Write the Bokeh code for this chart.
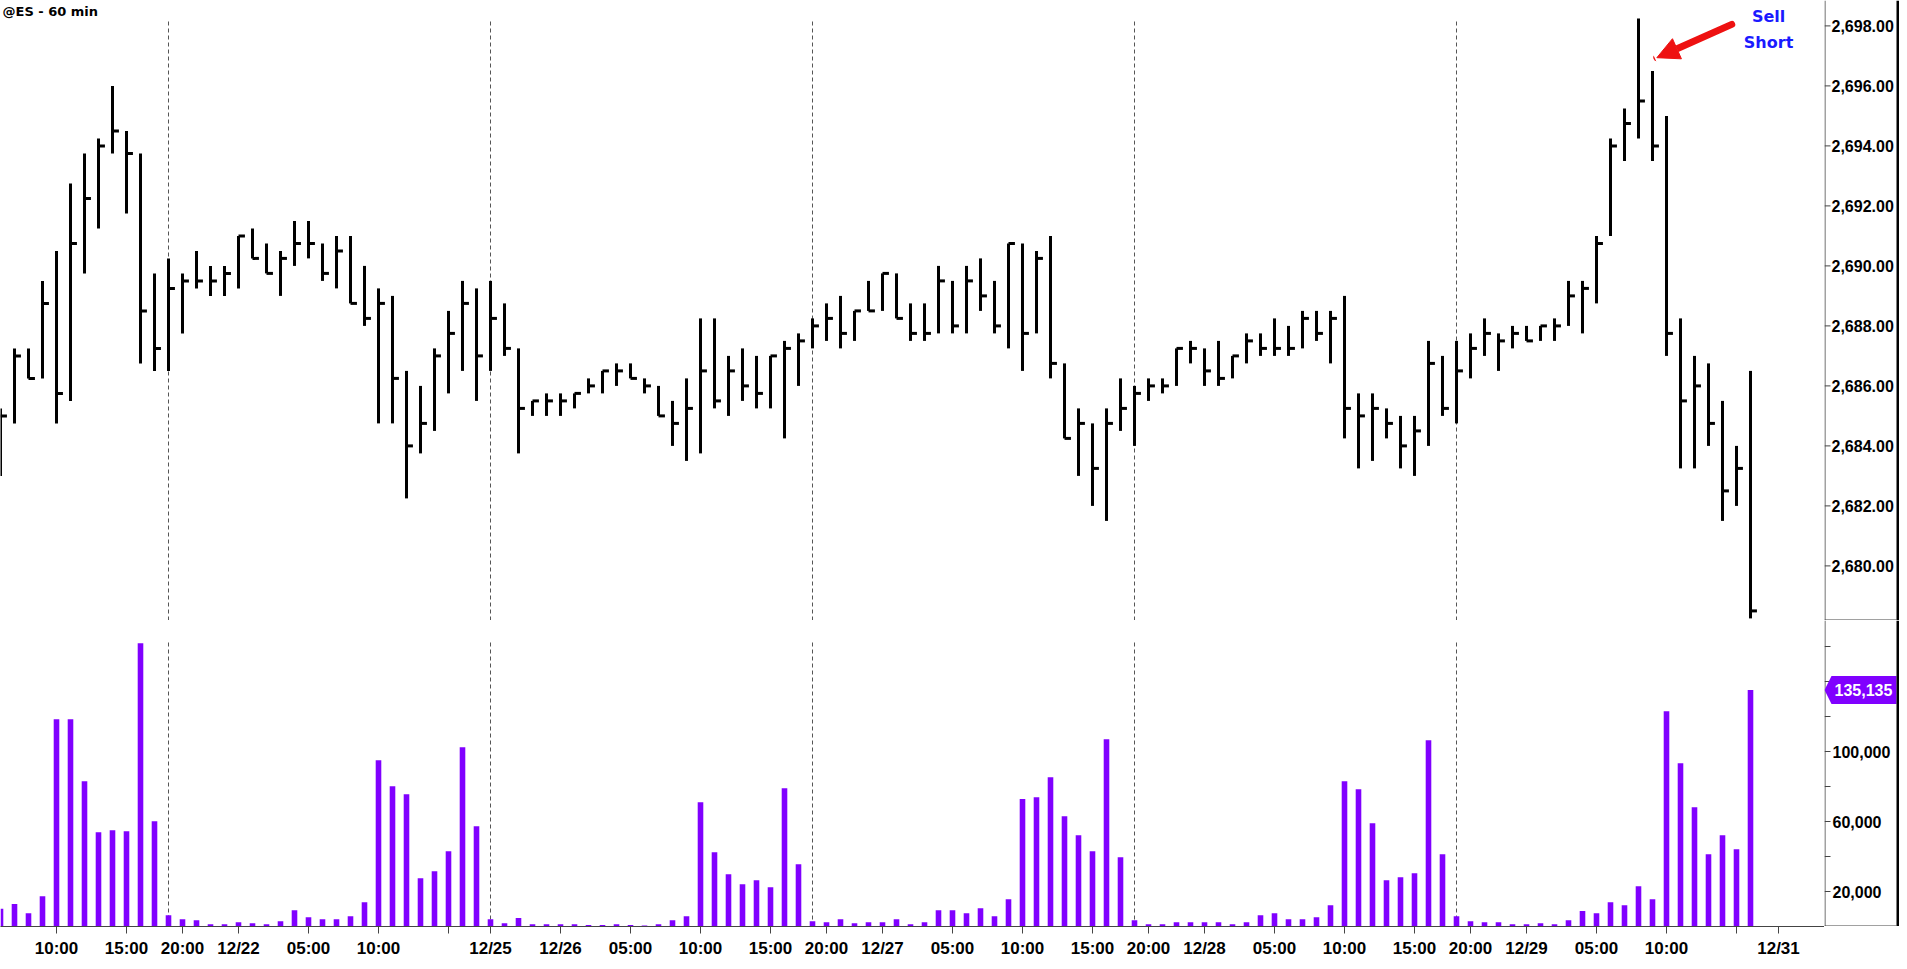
import numpy as np
from bokeh.plotting import figure
from bokeh.layouts import column, row
from bokeh.models import (ColumnDataSource, Range1d, FixedTicker, Label, Arrow, NormalHead)
from bokeh.core.properties import value
from bokeh.embed import file_html
from bokeh.resources import INLINE

# ---------------- data ----------------
TITLE = "@ES - 60 min"

HIGH = [2685.25, 2687.25, 2687.25, 2689.5, 2690.5, 2692.75, 2693.75, 2694.25, 2696.0, 2694.5,
        2693.75, 2689.75, 2690.25, 2689.75, 2690.5, 2690.0, 2690.0, 2691.0, 2691.25, 2690.75,
        2690.5, 2691.5, 2691.5, 2690.75, 2691.0, 2691.0, 2690.0, 2689.25, 2689.0, 2686.5,
        2686.0, 2687.25, 2688.5, 2689.5, 2689.25, 2689.5, 2688.75, 2687.25, 2685.5, 2685.75,
        2685.75, 2685.75, 2686.25, 2686.5, 2686.75, 2686.75, 2686.25, 2686.0, 2685.5, 2686.25,
        2688.25, 2688.25, 2687.0, 2687.25, 2687.0, 2687.0, 2687.5, 2687.75, 2688.25, 2688.75,
        2689.0, 2688.5, 2689.5, 2689.75, 2689.75, 2688.75, 2688.75, 2690.0, 2689.5, 2690.0,
        2690.25, 2689.5, 2690.75, 2690.75, 2690.5, 2691.0, 2686.75, 2685.25, 2684.75, 2685.25,
        2686.25, 2686.0, 2686.25, 2686.25, 2687.25, 2687.5, 2687.25, 2687.5, 2687.0, 2687.75,
        2687.75, 2688.25, 2688.0, 2688.5, 2688.5, 2688.5, 2689.0, 2685.75, 2685.75, 2685.25,
        2685.0, 2685.0, 2687.5, 2687.0, 2687.5, 2687.75, 2688.25, 2687.75, 2688.0, 2688.0,
        2688.0, 2688.25, 2689.5, 2689.5, 2691.0, 2694.25, 2695.25, 2698.25, 2696.5, 2695.0,
        2688.25, 2687.0, 2686.75, 2685.5, 2684.0, 2686.5]

LOW = [2683.0, 2684.75, 2686.25, 2686.25, 2684.75, 2685.5, 2689.75, 2691.25, 2693.75, 2691.75,
       2686.75, 2686.5, 2686.5, 2687.75, 2689.25, 2689.0, 2689.0, 2689.25, 2690.25, 2689.75,
       2689.0, 2690.0, 2690.25, 2689.5, 2689.25, 2688.75, 2688.0, 2684.75, 2684.75, 2682.25,
       2683.75, 2684.5, 2685.75, 2686.5, 2685.5, 2686.5, 2687.0, 2683.75, 2685.0, 2685.0,
       2685.0, 2685.25, 2685.75, 2685.75, 2686.0, 2686.25, 2685.75, 2685.0, 2684.0, 2683.5,
       2683.75, 2685.25, 2685.0, 2685.5, 2685.25, 2685.25, 2684.25, 2686.0, 2687.25, 2687.5,
       2687.25, 2687.5, 2688.5, 2688.5, 2688.25, 2687.5, 2687.5, 2687.75, 2687.75, 2687.75,
       2688.5, 2687.75, 2687.25, 2686.5, 2687.75, 2686.25, 2684.25, 2683.0, 2682.0, 2681.5,
       2684.5, 2684.0, 2685.5, 2685.75, 2686.0, 2686.75, 2686.0, 2686.0, 2686.25, 2686.75,
       2687.0, 2687.0, 2687.0, 2687.25, 2687.5, 2686.75, 2684.25, 2683.25, 2683.5, 2684.25,
       2683.25, 2683.0, 2684.0, 2685.0, 2684.75, 2686.25, 2687.0, 2686.5, 2687.25, 2687.5,
       2687.5, 2687.5, 2688.0, 2687.75, 2688.75, 2691.0, 2693.5, 2694.25, 2693.5, 2687.0,
       2683.25, 2683.25, 2684.0, 2681.5, 2682.0, 2678.25]

CLOSE = [2685.0, 2687.0, 2686.25, 2688.75, 2685.75, 2690.75, 2692.25, 2694.0, 2694.5, 2693.75,
         2688.5, 2687.25, 2689.25, 2689.5, 2689.5, 2689.5, 2689.75, 2691.0, 2690.25, 2689.75,
         2690.25, 2690.75, 2690.75, 2689.75, 2690.5, 2688.75, 2688.25, 2688.75, 2686.25, 2684.0,
         2684.75, 2687.0, 2687.75, 2688.75, 2687.0, 2688.25, 2687.25, 2685.25, 2685.5, 2685.5,
         2685.5, 2685.75, 2686.0, 2686.5, 2686.5, 2686.25, 2686.0, 2685.0, 2684.75, 2685.25,
         2686.5, 2685.5, 2686.5, 2686.0, 2685.75, 2687.0, 2687.25, 2687.5, 2688.0, 2688.25,
         2687.75, 2688.5, 2688.5, 2689.75, 2688.25, 2687.75, 2687.75, 2689.5, 2688.0, 2689.5,
         2689.0, 2688.0, 2690.75, 2687.75, 2690.25, 2686.75, 2684.25, 2684.75, 2683.25, 2684.75,
         2685.25, 2685.75, 2686.0, 2686.0, 2687.25, 2687.25, 2686.5, 2686.25, 2687.0, 2687.5,
         2687.25, 2687.25, 2687.25, 2688.25, 2687.75, 2688.25, 2685.25, 2685.0, 2685.25, 2684.75,
         2684.0, 2684.5, 2686.75, 2685.25, 2686.5, 2687.25, 2687.75, 2687.5, 2687.75, 2687.5,
         2688.0, 2688.0, 2689.0, 2689.25, 2690.75, 2694.0, 2694.75, 2695.5, 2694.0, 2687.75,
         2685.5, 2686.0, 2684.75, 2682.5, 2683.25, 2678.5]

VOLUME = [10100, 12800, 7600, 17300, 118500, 118500, 83000, 53900, 55000, 54500,
          161900, 60200, 6500, 4200, 3600, 1300, 1300, 2500, 1900, 1300,
          3000, 9300, 5300, 4200, 4200, 5900, 13900, 95000, 80200, 75600,
          27600, 31600, 43000, 102500, 57300, 4200, 1900, 4800, 1300, 1300,
          1300, 1300, 800, 800, 1300, 800, 600, 1300, 3600, 5900,
          71000, 42500, 29900, 24200, 26500, 22500, 79000, 35600, 3000, 2500,
          4200, 1900, 2500, 2500, 4200, 1300, 2500, 9300, 9300, 7600,
          10500, 5900, 15600, 72800, 73900, 85300, 63000, 52200, 43000, 107000,
          39600, 3600, 1300, 1300, 2500, 2500, 2500, 2500, 1300, 2500,
          6500, 7600, 4200, 4200, 5300, 12200, 83000, 78500, 59000, 26500,
          28200, 30500, 106500, 41300, 5900, 3000, 2500, 2500, 1300, 1300,
          1900, 1300, 3600, 8800, 7600, 13900, 12200, 23000, 15600, 123000,
          93300, 68200, 41300, 52200, 44200, 135135]

SESSION_STARTS = [12, 35, 58, 81, 104]

XTICK_IDX = [4, 9, 13, 17, 22, 27, 32, 35, 40, 45, 50, 55, 59, 63, 68, 73, 78, 82,
             86, 91, 96, 101, 105, 109, 114, 119, 124, 127]
XTICK_LABELS = ["10:00", "15:00", "20:00", "12/22", "05:00", "10:00", "", "12/25",
                "12/26", "05:00", "10:00", "15:00", "20:00", "12/27", "05:00", "10:00",
                "15:00", "20:00", "12/28", "05:00", "10:00", "15:00", "20:00", "12/29",
                "05:00", "10:00", "", "12/31"]

PRICE_TICKS = [2680, 2682, 2684, 2686, 2688, 2690, 2692, 2694, 2696, 2698]
VOL_TICKS = [20000, 40000, 60000, 80000, 100000, 120000, 140000, 160000]
VOL_TICK_LABELS = ["20,000", "", "60,000", "", "100,000", "", "140,000", ""]

ANNOT_LINE1 = "Sell"
ANNOT_LINE2 = "Short"

# ---------------- layout / style ----------------
FW = 1824          # main plot frame width
AXW = 72           # axis strip width (inside the black right border)
BORDER = 3
PRICE_FH = 620
VOL_FH = 306
PX_PER_BAR = 14.0
PX_PER_POINT = 30.0
PX_PER_1000 = 1.75
PRICE_BOTTOM = 2678.18
VOL_COLOR = "#8000ff"
AXIS_COLOR = "#444444"
LABEL_FONT = "Liberation Sans"

n = len(HIGH)
idx = np.arange(n)
src = ColumnDataSource(dict(idx=idx, high=HIGH, low=LOW, close=CLOSE,
                            tick_end=idx + 0.46, vol=VOLUME))

xr = Range1d(0, FW / PX_PER_BAR)
price_top = PRICE_BOTTOM + PRICE_FH / PX_PER_POINT
vol_top = VOL_FH / PX_PER_1000 * 1000
price_yr = Range1d(PRICE_BOTTOM, price_top)
vol_yr = Range1d(0, vol_top)

base = dict(toolbar_location=None, output_backend="svg", min_border_left=0,
            min_border_top=0, min_border_right=0, background_fill_color="white",
            border_fill_color="white", outline_line_color=None)


def axis_strip(y_range, fh):
    a = figure(frame_width=AXW + BORDER, frame_height=fh, x_range=Range1d(0, AXW + BORDER),
               y_range=y_range, x_axis_location=None, y_axis_location=None,
               min_border_bottom=0, **base)
    a.grid.visible = False
    return a


# ---------------- price panel ----------------
p = figure(frame_width=FW, frame_height=PRICE_FH, x_range=xr, y_range=price_yr,
           x_axis_location=None, y_axis_location=None, min_border_bottom=0, **base)
p.grid.visible = False

sess_src = ColumnDataSource(dict(x=SESSION_STARTS,
                                 y0=[PRICE_BOTTOM] * len(SESSION_STARTS),
                                 y1=[price_top - 18 / PX_PER_POINT] * len(SESSION_STARTS)))
p.segment(x0="x", y0="y0", x1="x", y1="y1", source=sess_src, line_color="#555555",
          line_width=1, line_dash="4 3")

p.segment(x0="idx", y0="low", x1="idx", y1="high", source=src, line_color="black",
          line_width=3, line_cap="butt")
p.segment(x0="idx", y0="close", x1="tick_end", y1="close", source=src, line_color="black",
          line_width=3, line_cap="butt")

p.add_layout(Label(x=2, y=PRICE_FH - 3, x_units="screen", y_units="screen", text=TITLE,
                   text_font="DejaVu Sans", text_font_style="bold", text_font_size="13px",
                   text_baseline="top", text_align="left", text_color="black"))

p.add_layout(Arrow(end=NormalHead(size=22, fill_color="#ee1111", line_color="#ee1111"),
                   x_start=123.66, y_start=2698.05, x_end=118.31, y_end=2696.94,
                   line_color="#ee1111", line_width=7, line_cap="round"))
for txt, yv in ((ANNOT_LINE1, 2698.33), (ANNOT_LINE2, 2697.44)):
    p.add_layout(Label(x=126.29, y=yv, text=txt, text_align="center", text_baseline="middle",
                       text_color="#1a1aff", text_font="DejaVu Sans",
                       text_font_style="bold", text_font_size="16px"))

# price axis strip (right side)
pa = axis_strip(price_yr, PRICE_FH)
pt = ColumnDataSource(dict(y=PRICE_TICKS, x0=[0] * len(PRICE_TICKS), x1=[6] * len(PRICE_TICKS),
                           xl=[7] * len(PRICE_TICKS),
                           lab=[f"{t:,.2f}" for t in PRICE_TICKS]))
pa.segment(x0=0.5, y0=PRICE_BOTTOM, x1=0.5, y1=price_top, line_color=AXIS_COLOR, line_width=1)
pa.segment(x0="x0", y0="y", x1="x1", y1="y", source=pt, line_color=AXIS_COLOR, line_width=1)
pa.text(x="xl", y="y", text="lab", source=pt, text_font=value(LABEL_FONT),
        text_font_style="bold", text_font_size="16px", text_color="black",
        text_baseline="middle", text_align="left")
pa.segment(x0=0, y0=PRICE_BOTTOM, x1=AXW, y1=PRICE_BOTTOM, line_color=AXIS_COLOR, line_width=2)
pa.quad(left=AXW, right=AXW + BORDER, bottom=PRICE_BOTTOM, top=price_top,
        fill_color="black", line_color=None)

# ---------------- volume panel ----------------
v = figure(frame_width=FW, frame_height=VOL_FH, x_range=xr, y_range=vol_yr,
           y_axis_location=None, min_border_bottom=0, **base)
v.grid.visible = False

vsess = ColumnDataSource(dict(x=SESSION_STARTS, y0=[0] * len(SESSION_STARTS),
                              y1=[vol_top - 22 / PX_PER_1000 * 1000] * len(SESSION_STARTS)))
v.segment(x0="x", y0="y0", x1="x", y1="y1", source=vsess, line_color="#555555",
          line_width=1, line_dash="4 3")
v.vbar(x="idx", top="vol", width=0.4, source=src, fill_color=VOL_COLOR, line_color=None)

xa = v.xaxis[0]
xa.ticker = FixedTicker(ticks=XTICK_IDX)
xa.major_label_overrides = {int(k): lab for k, lab in zip(XTICK_IDX, XTICK_LABELS)}
xa.minor_tick_line_color = None
xa.major_tick_out = 7
xa.major_tick_in = 0
xa.major_label_standoff = 5
xa.axis_line_color = AXIS_COLOR
xa.major_tick_line_color = AXIS_COLOR
xa.major_label_text_font = LABEL_FONT
xa.major_label_text_font_style = "bold"
xa.major_label_text_font_size = "17px"
xa.major_label_text_color = "black"

# volume axis strip (right side)
va = axis_strip(vol_yr, VOL_FH)
labeled = [(t, l) for t, l in zip(VOL_TICKS, VOL_TICK_LABELS) if l]
vt = ColumnDataSource(dict(y=VOL_TICKS, x0=[0] * len(VOL_TICKS), x1=[6] * len(VOL_TICKS)))
vl = ColumnDataSource(dict(y=[t for t, _ in labeled], x=[8] * len(labeled),
                           lab=[l for _, l in labeled]))
va.segment(x0=0.5, y0=0, x1=0.5, y1=vol_top, line_color=AXIS_COLOR, line_width=1)
va.segment(x0="x0", y0="y", x1="x1", y1="y", source=vt, line_color=AXIS_COLOR, line_width=1)
va.text(x="x", y="y", text="lab", source=vl, text_font=value(LABEL_FONT),
        text_font_style="bold", text_font_size="16px", text_color="black",
        text_baseline="middle", text_align="left")
va.segment(x0=0, y0=0, x1=AXW, y1=0, line_color=AXIS_COLOR, line_width=2)

last_v = VOLUME[-1]
half = 14 / PX_PER_1000 * 1000
va.patch(x=[0, 7, AXW, AXW, 7], y=[last_v, last_v + half, last_v + half, last_v - half, last_v - half],
         fill_color=VOL_COLOR, line_color=None)
va.text(x=[10], y=[last_v], text=[f"{last_v:,}"], text_font=value(LABEL_FONT),
        text_font_style="bold", text_font_size="16px", text_color="white",
        text_baseline="middle", text_align="left")
va.quad(left=AXW, right=AXW + BORDER, bottom=0, top=vol_top, fill_color="black", line_color=None)

layout = column(row(p, pa, spacing=0), row(v, va, spacing=0), spacing=0)
open("out.html", "w").write(file_html(layout, INLINE, "@ES - 60 min"))
